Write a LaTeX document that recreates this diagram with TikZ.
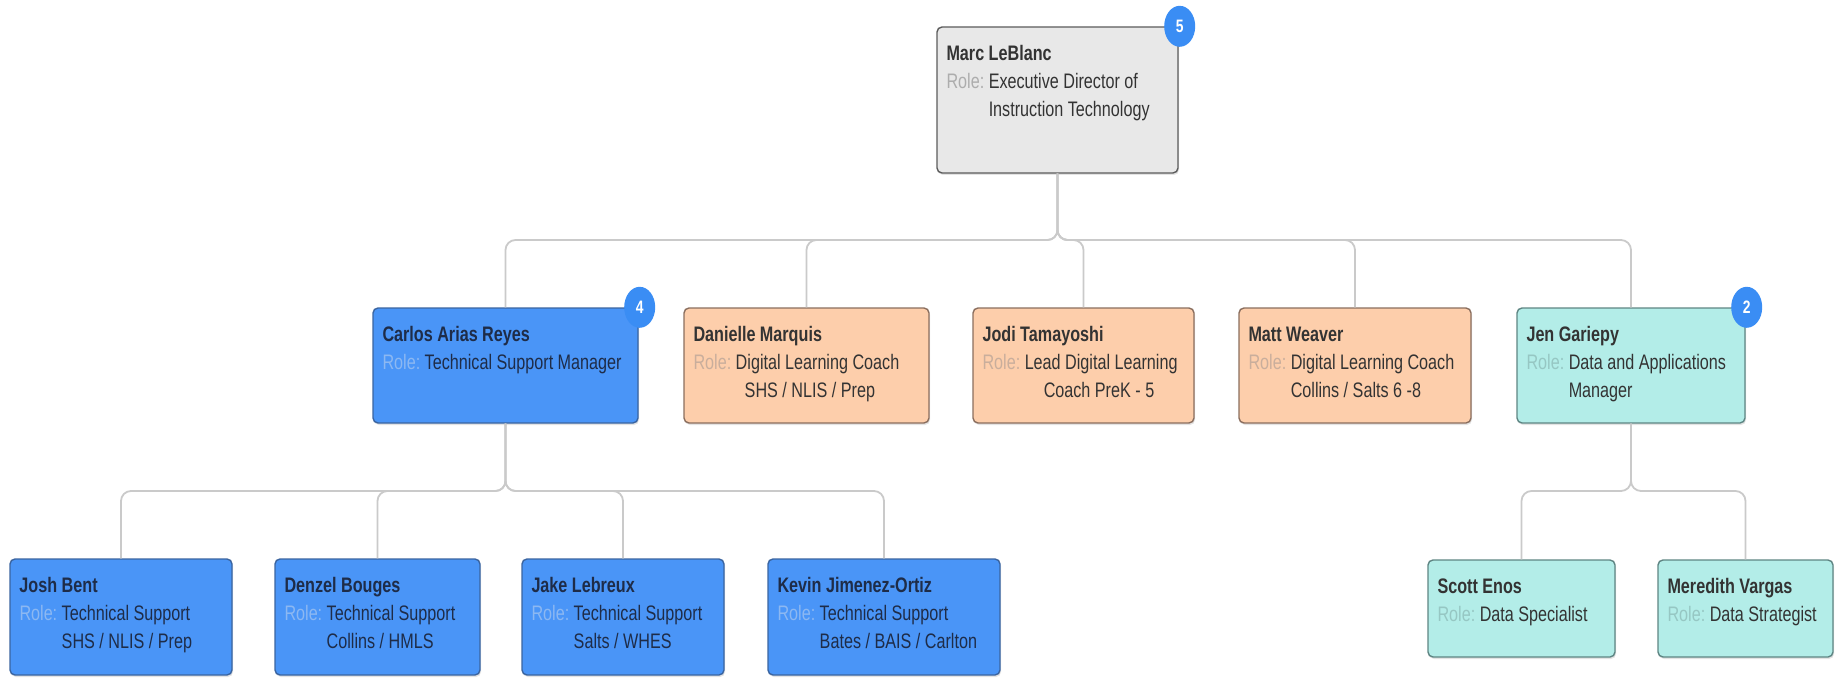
\documentclass[tikz,border=0pt]{standalone}
\usepackage{fontspec}
\setmainfont{Liberation Sans}[FakeStretch=0.77]
\usetikzlibrary{shadows,shapes.geometric,calc}
\definecolor{grayfill}{HTML}{E8E8E8}
\definecolor{bluefill}{HTML}{4A95F7}
\definecolor{peachfill}{HTML}{FDCEAB}
\definecolor{tealfill}{HTML}{B3EDE8}
\definecolor{badgeblue}{HTML}{3A8DF4}
\definecolor{linegray}{HTML}{CACACA}
\definecolor{grayborder}{HTML}{5C5C5C}
\definecolor{blueborder}{HTML}{3A64A0}
\definecolor{peachborder}{HTML}{8A6E5E}
\definecolor{tealborder}{HTML}{5E8583}
\definecolor{darktext}{HTML}{333333}
\definecolor{navytext}{HTML}{1E2C48}
\definecolor{rolegray}{HTML}{ADADAD}
\definecolor{roleblue}{HTML}{8CB8F2}
\definecolor{rolepeach}{HTML}{C9AE9C}
\definecolor{roleteal}{HTML}{96C7C3}
\newcommand{\orgcard}[3]{\parbox[t]{260pt}{\raggedright\fontsize{21}{28}\selectfont\textbf{#2}\\{\color{#1}Role:}\ \parbox[t]{210pt}{\raggedright #3}}}
\tikzset{
  x=1pt, y=-1pt,
  card/.style={rounded corners=5pt, line width=1.4pt, inner sep=0pt,
    drop shadow={shadow xshift=1pt, shadow yshift=-2pt, opacity=0.22}},
  graycard/.style={card, fill=grayfill, draw=grayborder},
  bluecard/.style={card, fill=bluefill, draw=blueborder},
  peachcard/.style={card, fill=peachfill, draw=peachborder},
  tealcard/.style={card, fill=tealfill, draw=tealborder},
  cardtext/.style={anchor=base west, inner sep=0pt},
  badge/.style={shape=ellipse, minimum width=31pt, minimum height=41pt, inner sep=0pt,
    fill=badgeblue, text=white, font=\bfseries\fontsize{18}{18}\selectfont},
  conn/.style={draw=linegray, line width=1.8pt, rounded corners=10pt},
}
\begin{document}
\begin{tikzpicture}
\useasboundingbox (0,0) rectangle (1837,679);
% boxes
\node[graycard, minimum width=241pt, minimum height=146pt] (marc) at (1057.5,100) {};
\node[bluecard, minimum width=265pt, minimum height=115pt] (carlos) at (505.5,365.5) {};
\node[peachcard, minimum width=245pt, minimum height=115pt] (danielle) at (806.5,365.5) {};
\node[peachcard, minimum width=221pt, minimum height=115pt] (jodi) at (1083.5,365.5) {};
\node[peachcard, minimum width=232pt, minimum height=115pt] (matt) at (1355,365.5) {};
\node[tealcard, minimum width=228pt, minimum height=115pt] (jen) at (1631,365.5) {};
\node[bluecard, minimum width=222pt, minimum height=116pt] (josh) at (121,617) {};
\node[bluecard, minimum width=205pt, minimum height=116pt] (denzel) at (377.5,617) {};
\node[bluecard, minimum width=202pt, minimum height=116pt] (jake) at (623,617) {};
\node[bluecard, minimum width=232pt, minimum height=116pt] (kevin) at (884,617) {};
\node[tealcard, minimum width=187pt, minimum height=97pt] (scott) at (1521.5,608.5) {};
\node[tealcard, minimum width=175pt, minimum height=97pt] (meredith) at (1745.5,608.5) {};
% texts
\node[cardtext, text=darktext] (marc-t) at ([shift={(10,34)}]marc.north west)
  {\orgcard{rolegray}{Marc LeBlanc}{Executive Director of\\Instruction Technology}};
\node[cardtext, text=navytext] (carlos-t) at ([shift={(10,34)}]carlos.north west)
  {\orgcard{roleblue}{Carlos Arias Reyes}{Technical Support Manager}};
\node[cardtext, text=darktext] (danielle-t) at ([shift={(10,34)}]danielle.north west)
  {\orgcard{rolepeach}{Danielle Marquis}{Digital Learning Coach\\\hspace*{9pt}SHS / NLIS / Prep}};
\node[cardtext, text=darktext] (jodi-t) at ([shift={(10,34)}]jodi.north west)
  {\orgcard{rolepeach}{Jodi Tamayoshi}{Lead Digital Learning\\\hspace*{19pt}Coach PreK - 5}};
\node[cardtext, text=darktext] (matt-t) at ([shift={(10,34)}]matt.north west)
  {\orgcard{rolepeach}{Matt Weaver}{Digital Learning Coach\\Collins / Salts 6 -8}};
\node[cardtext, text=darktext] (jen-t) at ([shift={(10,34)}]jen.north west)
  {\orgcard{roleteal}{Jen Gariepy}{Data and Applications\\Manager}};
\node[cardtext, text=navytext] (josh-t) at ([shift={(10,34)}]josh.north west)
  {\orgcard{roleblue}{Josh Bent}{Technical Support\\SHS / NLIS / Prep}};
\node[cardtext, text=navytext] (denzel-t) at ([shift={(10,34)}]denzel.north west)
  {\orgcard{roleblue}{Denzel Bouges}{Technical Support\\Collins / HMLS}};
\node[cardtext, text=navytext] (jake-t) at ([shift={(10,34)}]jake.north west)
  {\orgcard{roleblue}{Jake Lebreux}{Technical Support\\Salts / WHES}};
\node[cardtext, text=navytext] (kevin-t) at ([shift={(10,34)}]kevin.north west)
  {\orgcard{roleblue}{Kevin Jimenez-Ortiz}{Technical Support\\Bates / BAIS / Carlton}};
\node[cardtext, text=darktext] (scott-t) at ([shift={(10,34)}]scott.north west)
  {\orgcard{roleteal}{Scott Enos}{Data Specialist}};
\node[cardtext, text=darktext] (meredith-t) at ([shift={(10,34)}]meredith.north west)
  {\orgcard{roleteal}{Meredith Vargas}{Data Strategist}};
% connectors
\coordinate (bus1) at (0,240);
\coordinate (bus2) at (0,491);
\foreach \c in {carlos,danielle,jodi,matt,jen}
  \draw[conn] (marc.south) -- (marc.south |- bus1) -- (\c.north |- bus1) -- (\c.north);
\foreach \c in {josh,denzel,jake,kevin}
  \draw[conn] (carlos.south) -- (carlos.south |- bus2) -- (\c.north |- bus2) -- (\c.north);
\foreach \c in {scott,meredith}
  \draw[conn] (jen.south) -- (jen.south |- bus2) -- (\c.north |- bus2) -- (\c.north);
% badges
\node[badge] (marc-b) at ([shift={(1,0)}]marc.north east) {5};
\node[badge] (carlos-b) at ([shift={(1,0)}]carlos.north east) {4};
\node[badge] (jen-b) at ([shift={(1,0)}]jen.north east) {2};
\end{tikzpicture}
\end{document}
